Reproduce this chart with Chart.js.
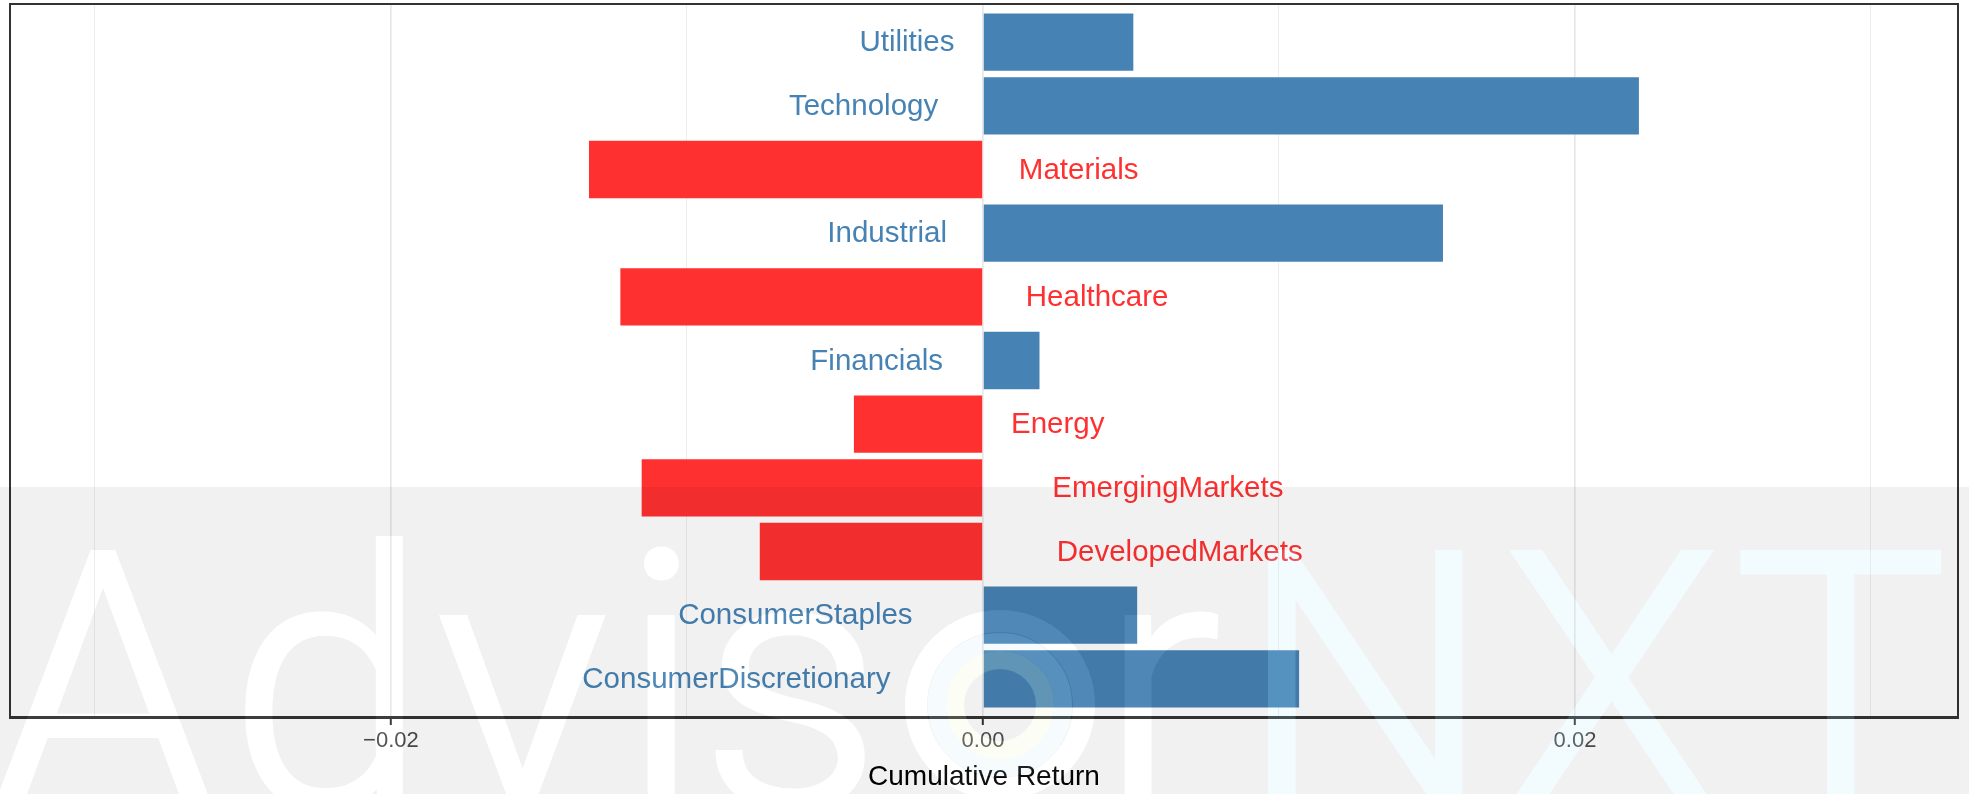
<!DOCTYPE html>
<html>
<head>
<meta charset="utf-8">
<script src="https://cdn.jsdelivr.net/npm/chart.js@4.4.1/dist/chart.umd.min.js"></script>
<style>
    html, body { margin: 0; padding: 0; background: #fff; }
    #wrap { width: 1969px; height: 794px; }
</style>
</head>
<body>
<div id="wrap"><canvas id="sector-chart" width="1969" height="794"></canvas></div>
<script>
// sectors listed top to bottom
const sectors = ['Utilities', 'Technology', 'Materials', 'Industrial', 'Healthcare', 'Financials',
    'Energy', 'EmergingMarkets', 'DevelopedMarkets', 'ConsumerStaples', 'ConsumerDiscretionary'];
const cumulativeReturns = [0.00508, 0.02216, -0.01331, 0.01554, -0.01225, 0.00191,
    -0.00436, -0.01153, -0.00754, 0.00521, 0.01068];
const majorTicks = [-0.02, 0, 0.02];
const tickLabels = ['\u22120.02', '0.00', '0.02'];
const xLimits = [-0.03287, 0.03294];

const POS_COLOR = '#4682B4';
const NEG_COLOR = '#FF3030';
const FONT = '"Liberation Sans", Arial, sans-serif';

function isMajor(v) {
    return majorTicks.some(m => Math.abs(m - v) < 1e-9);
}

// white page behind everything
const whiteBg = {
    id: 'whiteBg',
    beforeDraw(chart) {
        const ctx = chart.ctx;
        ctx.save();
        ctx.fillStyle = '#fff';
        ctx.fillRect(0, 0, chart.width, chart.height);
        ctx.restore();
    }
};

// sector names beside the zero line, like geom_text with hjust 1.3 / -0.3
const barLabels = {
    id: 'barLabels',
    afterDatasetsDraw(chart) {
        const ctx = chart.ctx;
        const meta = chart.getDatasetMeta(0);
        const x0 = chart.scales.x.getPixelForValue(0);
        ctx.save();
        ctx.font = '29.5px ' + FONT;
        ctx.textBaseline = 'middle';
        meta.data.forEach((bar, i) => {
            const v = cumulativeReturns[i];
            const w = ctx.measureText(sectors[i]).width;
            ctx.fillStyle = v >= 0 ? POS_COLOR : NEG_COLOR;
            if (v >= 0) {
                ctx.textAlign = 'right';
                ctx.fillText(sectors[i], x0 - 0.3 * w, bar.y + 1);
            } else {
                ctx.textAlign = 'left';
                ctx.fillText(sectors[i], x0 + 0.3 * w, bar.y + 1);
            }
        });
        // panel border
        const a = chart.chartArea;
        ctx.strokeStyle = '#333';
        ctx.lineWidth = 2;
        ctx.strokeRect(a.left, a.top, a.right - a.left, a.bottom - a.top);
        ctx.restore();
    }
};

// AdvisorNXT watermark band laid over the lower part of the picture
const watermark = {
    id: 'watermark',
    afterDraw(chart) {
        const W = chart.width, H = chart.height;
        const bandTop = 487;
        const baseline = 806;
        const cx = 1000, cy = 705;

        const whiteLetters = [['A', 103], ['d', 324], ['v', 523], ['i', 660], ['s', 790], ['r', 1170]];
        const blueLetters = [['N', 1364], ['X', 1611], ['T', 1840]];

        function newLayer() {
            const c = document.createElement('canvas');
            c.width = W; c.height = H;
            return c;
        }
        function lettersMask(list) {
            const c = newLayer();
            const m = c.getContext('2d');
            m.font = '300 356px Roboto, "Open Sans", sans-serif';
            m.textBaseline = 'alphabetic';
            m.fillStyle = '#000';
            m.strokeStyle = '#000';
            m.lineWidth = 6;
            list.forEach(([ch, center]) => {
                const t = m.measureText(ch);
                const x = center - (t.actualBoundingBoxRight - t.actualBoundingBoxLeft) / 2;
                m.fillText(ch, x, baseline);
                m.strokeText(ch, x, baseline);
            });
            return c;
        }
        function ringMask(r, lw) {
            const c = newLayer();
            const m = c.getContext('2d');
            m.beginPath();
            m.arc(cx, cy, r, 0, Math.PI * 2);
            m.lineWidth = lw;
            m.strokeStyle = '#000';
            m.stroke();
            return c;
        }

        const parts = [
            [lettersMask(whiteLetters), 'rgba(255,255,255,0.05)'],
            [lettersMask(blueLetters), 'rgba(175,228,246,0.16)'],
            [ringMask(84, 22), 'rgba(255,255,255,0.06)'],
            [ringMask(63, 18), 'rgba(190,230,248,0.14)'],
            [ringMask(45, 18), 'rgba(235,248,190,0.16)']
        ];

        const layer = newLayer();
        const o = layer.getContext('2d');
        o.fillStyle = 'rgba(0,0,0,0.055)';
        o.fillRect(0, bandTop, W, H - bandTop);
        parts.forEach(([mask, tint]) => {
            o.globalCompositeOperation = 'destination-out';
            o.drawImage(mask, 0, 0);
            const m = mask.getContext('2d');
            m.globalCompositeOperation = 'source-in';
            m.fillStyle = tint;
            m.fillRect(0, 0, W, H);
            o.globalCompositeOperation = 'source-over';
            o.drawImage(mask, 0, 0);
        });
        // keep everything inside the band
        o.globalCompositeOperation = 'destination-out';
        o.fillStyle = '#000';
        o.fillRect(0, 0, W, bandTop);

        chart.ctx.drawImage(layer, 0, 0);
    }
};

new Chart(document.getElementById('sector-chart'), {
    type: 'bar',
    data: {
        datasets: [{
            data: cumulativeReturns.map((v, i) => ({ x: v, y: i })),
            backgroundColor: cumulativeReturns.map(v => v >= 0 ? POS_COLOR : NEG_COLOR),
            borderWidth: 0,
            barPercentage: 0.9,
            categoryPercentage: 1.0
        }]
    },
    options: {
        indexAxis: 'y',
        responsive: false,
        animation: false,
        layout: { padding: { left: 10, right: 11, top: 4, bottom: 0 } },
        plugins: { legend: { display: false }, tooltip: { enabled: false } },
        scales: {
            x: {
                type: 'linear',
                min: xLimits[0],
                max: xLimits[1],
                ticks: {
                    stepSize: 0.01,
                    includeBounds: false,
                    autoSkip: false,
                    maxRotation: 0,
                    padding: 3,
                    color: '#4D4D4D',
                    font: { family: FONT, size: 22 },
                    callback: v => {
                        const idx = majorTicks.findIndex(m => Math.abs(m - v) < 1e-9);
                        return idx >= 0 ? tickLabels[idx] : '';
                    }
                },
                grid: {
                    color: ctx => isMajor(ctx.tick.value) ? '#E6E6E6' : '#EDEDED',
                    lineWidth: ctx => isMajor(ctx.tick.value) ? 1.6 : 1,
                    drawTicks: true,
                    tickLength: 8,
                    tickWidth: 2,
                    tickColor: ctx => isMajor(ctx.tick.value) ? '#333' : 'rgba(0,0,0,0)'
                },
                border: { display: true, color: '#333', width: 3 },
                title: {
                    display: true,
                    text: 'Cumulative Return',
                    color: '#000',
                    font: { family: FONT, size: 28 },
                    padding: { top: 4, bottom: 0 }
                },
                afterFit(scale) { scale.height = 77; }
            },
            y: {
                type: 'linear',
                min: -0.6,
                max: 10.6,
                reverse: true,
                offset: false,
                display: false,
                ticks: { stepSize: 1, includeBounds: false }
            }
        }
    },
    plugins: [whiteBg, barLabels, watermark]
});
</script>
</body>
</html>
